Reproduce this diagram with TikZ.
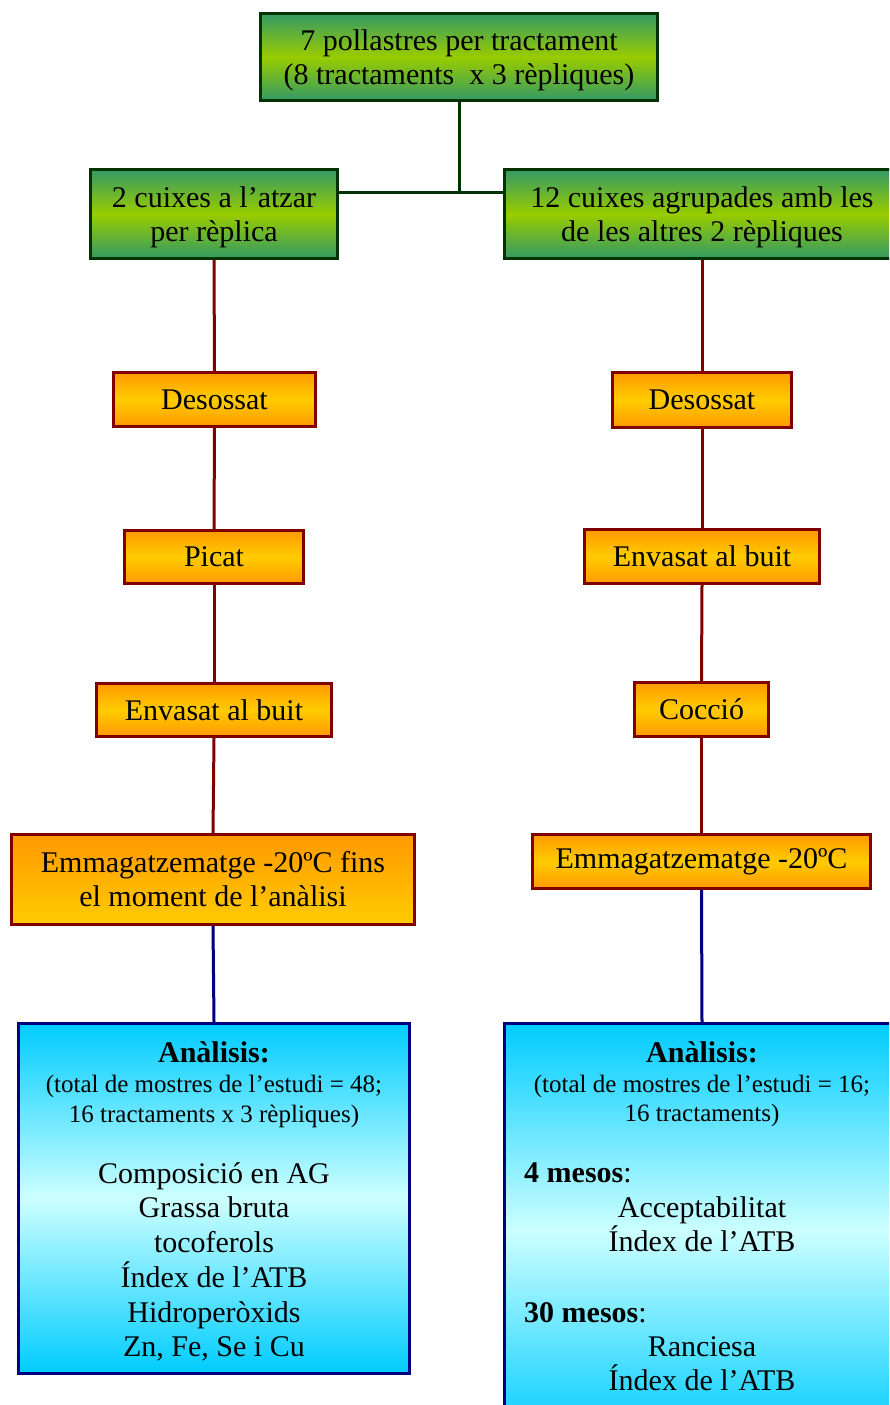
\documentclass[tikz,border=0pt]{standalone}
\usepackage{fontspec}
\setmainfont{Liberation Serif}
\definecolor{dkg}{HTML}{003300}
\definecolor{dkr}{HTML}{800000}
\definecolor{dkb}{HTML}{000080}
\definecolor{gA}{HTML}{339966}
\definecolor{gB}{HTML}{99CC00}
\definecolor{oA}{HTML}{FF9900}
\definecolor{oB}{HTML}{FFCC00}
\definecolor{bA}{HTML}{00CCFF}
\definecolor{bB}{HTML}{CCFFFF}
\begin{document}
\begin{tikzpicture}[x=1pt,y=-1pt,
  box/.style={rectangle, inner sep=0pt, line width=3pt, align=center, font=\fontsize{30}{34}\selectfont},
  gbox/.style={box, draw=dkg, top color=gA, bottom color=gA, middle color=gB, text depth=0pt},
  obox/.style={box, draw=dkr, top color=oA, bottom color=oA, middle color=oB},
  oboxtwo/.style={box, draw=dkr, top color=oA, bottom color=oB},
  bbox/.style={box, draw=dkb, top color=bA, bottom color=bA, middle color=bB},
  gline/.style={draw=dkg, line width=3pt},
  rline/.style={draw=dkr, line width=3pt},
  bline/.style={draw=dkb, line width=3pt},
  hd/.style={anchor=base, inner sep=0pt, font=\fontsize{30}{34}\selectfont\bfseries},
  sm/.style={anchor=base, inner sep=0pt, font=\fontsize{25}{30}\selectfont},
  it/.style={anchor=base, inner sep=0pt, font=\fontsize{30}{34}\selectfont},
  itl/.style={anchor=base west, inner sep=0pt, font=\fontsize{30}{34}\selectfont}]
\useasboundingbox (0,0) rectangle (889,1405);
\clip (0,0) rectangle (889,1405);

% top
\node[gbox, minimum width=397pt, minimum height=87pt] (top) at (459,57)
  {7 pollastres per tractament\\(8 tractaments\ \ x 3 rèpliques)};
\node[gbox, minimum width=247pt, minimum height=89pt] (Lg) at (214,214)
  {2 cuixes a l’atzar\\per rèplica};
\node[gbox, minimum width=395pt, minimum height=89pt] (Rg) at (702,214)
  {12 cuixes agrupades amb les\\de les altres 2 rèpliques};

% left column
\node[obox, minimum width=202pt, minimum height=54pt] (Ld) at (214.5,399.5) {Desossat};
\node[obox, minimum width=179pt, minimum height=53pt] (Lp) at (214,557) {Picat};
\node[obox, minimum width=235pt, minimum height=53pt] (Lv) at (214,710) {Envasat al buit};
\node[oboxtwo, minimum width=403pt, minimum height=90pt] (Le) at (213,879.5)
  {Emmagatzematge -20ºC fins\\el moment de l’anàlisi};
\node[bbox, minimum width=391pt, minimum height=350pt] (Lb) at (214,1198.5) {};

% right column
\node[obox, minimum width=179pt, minimum height=55pt] (Rd) at (702,400) {Desossat};
\node[obox, minimum width=235pt, minimum height=54pt] (Rv) at (702,556.5) {Envasat al buit};
\node[obox, minimum width=134pt, minimum height=54pt] (Rc) at (701.5,709.5) {Cocció};
\node[obox, minimum width=338pt, minimum height=54pt] (Re) at (701.5,861.5) {Emmagatzematge -20ºC};
\node[bbox, minimum width=395pt, minimum height=415pt] (Rb) at (702,1231) {};

% connectors
\coordinate (j) at (459,192);
\draw[gline] (top.south) -- (j);
\draw[gline] (Lg.east |- j) -- (Rg.west |- j);
\draw[rline] (Lg.south) -- (Ld.north);
\draw[rline] (Ld.south) -- (Lp.north);
\draw[rline] (Lp.south) -- (Lv.north);
\draw[rline] (Lv.south) -- (Le.north);
\draw[bline] (Le.south) -- (Lb.north);
\draw[rline] (Rg.south) -- (Rd.north);
\draw[rline] (Rd.south) -- (Rv.north);
\draw[rline] (Rv.south) -- (Rc.north);
\draw[rline] (Rc.south) -- (Re.north);
\draw[bline] (Re.south) -- (Rb.north);

% left analysis text
\node[hd] (la1) at (214,1062) {Anàlisis:};
\node[sm] (la2) at (214,1092) {(total de mostres de l’estudi = 48;};
\node[sm] (la3) at (214,1122) {16 tractaments x 3 rèpliques)};
\node[it] (la4) at (214,1183) {Composició en AG};
\node[it] (la5) at (214,1217.5) {Grassa bruta};
\node[it] (la6) at (214,1252) {tocoferols};
\node[it] (la7) at (214,1287) {Índex de l’ATB};
\node[it] (la8) at (214,1322) {Hidroperòxids};
\node[it] (la9) at (214,1356) {Zn, Fe, Se i Cu};

% right analysis text
\node[hd] (ra1) at (702,1062) {Anàlisis:};
\node[sm] (ra2) at (702,1092) {(total de mostres de l’estudi = 16;};
\node[sm] (ra3) at (702,1121) {16 tractaments)};
\node[itl] (ra4) at (524,1182) {\textbf{4 mesos}:};
\node[it] (ra5) at (702,1217) {Acceptabilitat};
\node[it] (ra6) at (702,1251) {Índex de l’ATB};
\node[itl] (ra7) at (524,1322) {\textbf{30 mesos}:};
\node[it] (ra8) at (702,1356) {Ranciesa};
\node[it] (ra9) at (702,1390) {Índex de l’ATB};
\end{tikzpicture}
\end{document}
